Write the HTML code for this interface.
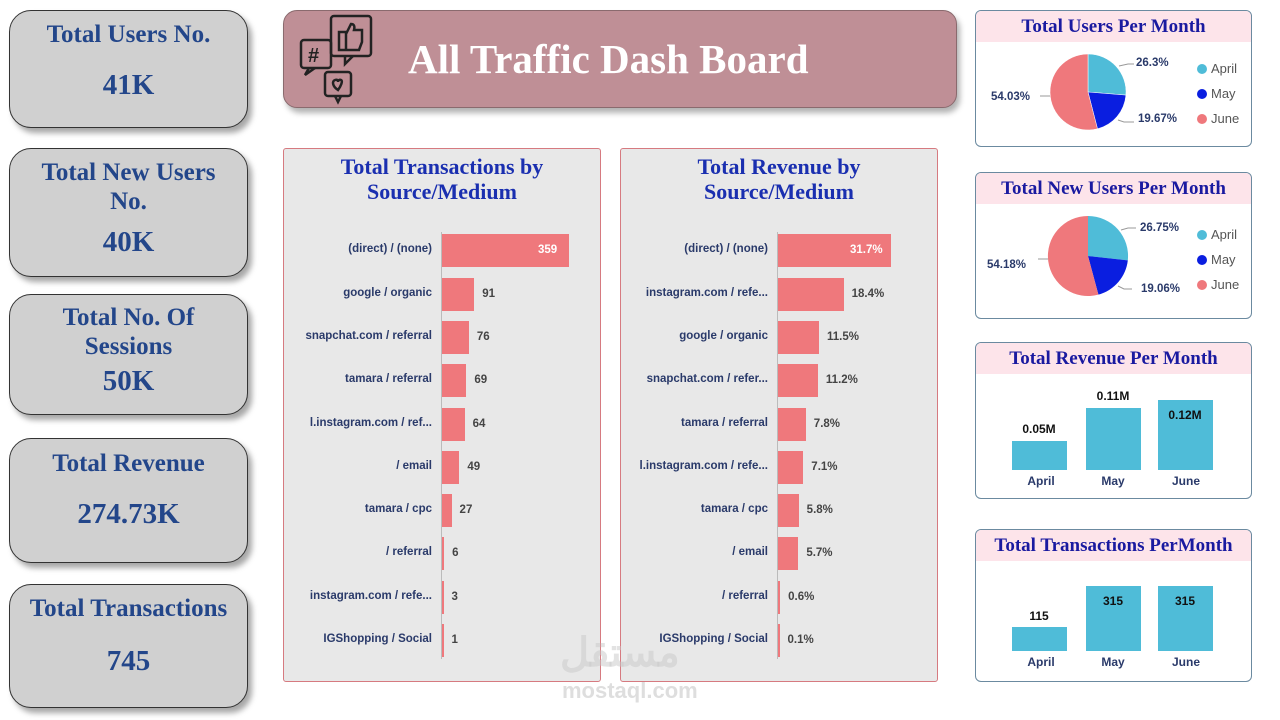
<!DOCTYPE html>
<html><head><meta charset="utf-8"><style>
*{margin:0;padding:0;box-sizing:border-box}
body{width:1280px;height:720px;background:#fff;position:relative;overflow:hidden;font-family:"Liberation Sans",sans-serif}
.a{position:absolute}
.card{position:absolute;left:9px;width:239px;background:#d0d0d0;border:1.5px solid #333;border-radius:22px;box-shadow:4px 5px 6px rgba(0,0,0,.35);text-align:center;font-family:"Liberation Serif",serif;font-weight:bold;color:#23468a}
.card .t{font-size:25px;line-height:29px}
.card .v{font-size:29px}
.panel{position:absolute;top:148px;height:534px;width:318px;background:#e8e8e8;border:1px solid #d67a80;border-radius:3px}
.pt{position:absolute;top:5px;left:0;width:100%;text-align:center;font-family:"Liberation Serif",serif;font-weight:bold;color:#1a2fb0;font-size:22px;line-height:25px}
.lb{position:absolute;font-size:11.5px;font-weight:bold;color:#2a3a6a;text-align:right;white-space:nowrap}
.bar{position:absolute;background:#ef787c;height:33px}
.val{position:absolute;font-size:11.5px;font-weight:bold;color:#444}
.rp{position:absolute;left:975px;width:277px;border:1.5px solid #6b8aa0;border-radius:6px;background:#fff;overflow:hidden}
.rt{height:31px;background:#fde4ea;text-align:center;font-family:"Liberation Serif",serif;font-weight:bold;color:#1a1aa0;font-size:19px;line-height:31px;white-space:nowrap}
.cb{position:absolute;background:#4fbcd8}
.ml{position:absolute;font-size:12px;font-weight:bold;color:#2a3a6a;width:54px;text-align:center}
.bv{position:absolute;font-size:12px;font-weight:bold;color:#111;width:54px;text-align:center}
.pl{position:absolute;font-size:11.5px;font-weight:bold;color:#2a3a6a}
.lg{position:absolute;font-size:13px;color:#555}
.lg i{display:inline-block;width:10px;height:10px;border-radius:50%;margin-right:4px;vertical-align:-1px}
</style></head><body>

<div class="card" style="top:10px;height:118px"><div class="t" style="margin-top:9px">Total Users No.</div><div class="v" style="margin-top:20px">41K</div></div>
<div class="card" style="top:148px;height:129px"><div class="t" style="margin-top:9px">Total New Users<br>No.</div><div class="v" style="margin-top:10px">40K</div></div>
<div class="card" style="top:294px;height:121px"><div class="t" style="margin-top:8px">Total No. Of<br>Sessions</div><div class="v" style="margin-top:4px">50K</div></div>
<div class="card" style="top:438px;height:125px"><div class="t" style="margin-top:10px">Total Revenue</div><div class="v" style="margin-top:20px">274.73K</div></div>
<div class="card" style="top:584px;height:124px"><div class="t" style="margin-top:9px">Total Transactions</div><div class="v" style="margin-top:22px">745</div></div>

<div class="a" style="left:283px;top:10px;width:674px;height:98px;background:#bf8f96;border:1px solid #8a6a6e;border-radius:14px;box-shadow:3px 5px 6px rgba(0,0,0,.3)"></div>
<svg class="a" style="left:295px;top:14px" width="90" height="92" viewBox="0 0 90 92" fill="none" stroke="#222" stroke-width="2.5">
<rect x="6" y="26" width="30" height="28" rx="3"/><path d="M14 54 l-4 7 10 -7"/>
<rect x="36" y="2" width="40" height="40" rx="3"/><path d="M50 42 l0 8 8 -8"/>
<path d="M44 18h7v18h-7zM51 20l5-10c3 0 4 2 3 6h8v12l-3 8h-13"/>
<rect x="30" y="58" width="26" height="24" rx="3"/><path d="M40 82l3 6 3-6"/>
<path d="M43 76c-6-4-6-9-3-10s3 1 3 2c0-1 1-3 3-2s0 6-3 10z"/>
<text x="13" y="48" font-size="20" font-weight="bold" fill="#222" stroke="none" font-family="Liberation Sans">#</text>
</svg>
<div class="a" style="left:408px;top:35px;font-family:'Liberation Serif',serif;font-weight:bold;color:#fff;font-size:41px;white-space:nowrap">All Traffic Dash Board</div>

<div class="panel" style="left:283px">
<div class="pt">Total Transactions by<br>Source/Medium</div>
</div>
<div class="panel" style="left:620px">
<div class="pt">Total Revenue by<br>Source/Medium</div>
</div>
<div class="a" style="left:441px;top:232px;width:1px;height:427px;background:#bbb"></div>
<div class="a" style="left:777px;top:232px;width:1px;height:427px;background:#bbb"></div>
<div id="t1"></div>

<script>
var ys=[250,294,337,380,424,467,510,553,597,640];
var A=[["(direct) / (none)",359],["google / organic",91],["snapchat.com / referral",76],["tamara / referral",69],["l.instagram.com / ref...",64],["/ email",49],["tamara / cpc",27],["/ referral",6],["instagram.com / refe...",3],["IGShopping / Social",1]];
var B=[["(direct) / (none)",31.7],["instagram.com / refe...",18.4],["google / organic",11.5],["snapchat.com / refer...",11.2],["tamara / referral",7.8],["l.instagram.com / refe...",7.1],["tamara / cpc",5.8],["/ email",5.7],["/ referral",0.6],["IGShopping / Social",0.1]];
var h="";
function draw(D,ax,max,w,suf,lr){
D.forEach(function(d,i){var y=ys[i];var bw=Math.max(1.5,d[1]/max*w);
h+='<div class="lb" style="right:'+(1280-lr)+'px;top:'+(y-7)+'px">'+d[0]+'</div>';
h+='<div class="bar" style="left:'+(ax+1)+'px;top:'+(y-16)+'px;width:'+bw+'px"></div>';
var t=suf?d[1].toFixed(1)+"%":d[1];
if(i==0)h+='<div class="val" style="color:#fff;left:'+(ax+bw-(suf?40:30))+'px;top:'+(y-6)+'px">'+t+'</div>';
else h+='<div class="val" style="left:'+(ax+bw+9)+'px;top:'+(y-6)+'px">'+t+'</div>';});}
draw(A,441,359,127,false,432);
draw(B,777,31.7,113,true,768);
document.getElementById("t1").innerHTML=h;
</script>

<div class="rp" style="top:10px;height:137px"><div class="rt">Total Users Per Month</div></div>
<div class="rp" style="top:172px;height:147px"><div class="rt">Total New Users Per Month</div></div>
<svg class="a" style="left:0;top:0" width="1280" height="720">
<g transform="translate(1088,92)">
<path d="M0 0V-38A38 38 0 0 1 37.9 3.1Z" fill="#4fbcd8" stroke="#fff" stroke-width=".5"/>
<path d="M0 0L37.9 3.1A38 38 0 0 1 9.5 36.8Z" fill="#0a1ee0" stroke="#fff" stroke-width=".5"/>
<path d="M0 0L9.5 36.8A38 38 0 1 1 0 -38Z" fill="#ef787c" stroke="#fff" stroke-width=".5"/>
<path d="M31 -26L40 -28H46M30 28L36 30H46M-38 4H-48" stroke="#999" fill="none"/>
</g>
<g transform="translate(1088,256)">
<path d="M0 0V-40A40 40 0 0 1 39.8 4.4Z" fill="#4fbcd8"/>
<path d="M0 0L39.8 4.4A40 40 0 0 1 10.4 38.6Z" fill="#0a1ee0"/>
<path d="M0 0L10.4 38.6A40 40 0 1 1 0 -40Z" fill="#ef787c"/>
<path d="M33 -26L40 -28H48M30 30L36 33H44M-40 3H-50" stroke="#999" fill="none"/>
</g>
</svg>
<div class="pl" style="left:1136px;top:57px">26.3%</div>
<div class="pl" style="left:1138px;top:113px">19.67%</div>
<div class="pl" style="left:991px;top:91px">54.03%</div>
<div class="lg" style="left:1197px;top:61px"><i style="background:#4fbcd8"></i>April</div>
<div class="lg" style="left:1197px;top:86px"><i style="background:#0a1ee0"></i>May</div>
<div class="lg" style="left:1197px;top:111px"><i style="background:#ef787c"></i>June</div>

<div class="pl" style="left:1140px;top:222px">26.75%</div>
<div class="pl" style="left:1141px;top:283px">19.06%</div>
<div class="pl" style="left:987px;top:259px">54.18%</div>
<div class="lg" style="left:1197px;top:227px"><i style="background:#4fbcd8"></i>April</div>
<div class="lg" style="left:1197px;top:252px"><i style="background:#0a1ee0"></i>May</div>
<div class="lg" style="left:1197px;top:277px"><i style="background:#ef787c"></i>June</div>

<div class="rp" style="top:342px;height:157px"><div class="rt">Total Revenue Per Month</div></div>
<div class="cb" style="left:1012px;top:441px;width:55px;height:29px"></div>
<div class="cb" style="left:1086px;top:408px;width:55px;height:62px"></div>
<div class="cb" style="left:1158px;top:400px;width:55px;height:70px"></div>
<div class="bv" style="left:1012px;top:422px">0.05M</div>
<div class="bv" style="left:1086px;top:389px">0.11M</div>
<div class="bv" style="left:1158px;top:408px">0.12M</div>
<div class="ml" style="left:1014px;top:474px">April</div>
<div class="ml" style="left:1086px;top:474px">May</div>
<div class="ml" style="left:1159px;top:474px">June</div>

<div class="rp" style="top:529px;height:153px"><div class="rt">Total Transactions PerMonth</div></div>
<div class="cb" style="left:1012px;top:627px;width:55px;height:24px"></div>
<div class="cb" style="left:1086px;top:586px;width:55px;height:65px"></div>
<div class="cb" style="left:1158px;top:586px;width:55px;height:65px"></div>
<div class="bv" style="left:1012px;top:609px">115</div>
<div class="bv" style="left:1086px;top:594px">315</div>
<div class="bv" style="left:1158px;top:594px">315</div>
<div class="ml" style="left:1014px;top:655px">April</div>
<div class="ml" style="left:1086px;top:655px">May</div>
<div class="ml" style="left:1159px;top:655px">June</div>

<div class="a" style="left:560px;top:630px;font-size:40px;font-weight:bold;color:rgba(200,200,200,.5)">مستقل</div>
<div class="a" style="left:562px;top:678px;font-size:22px;font-weight:bold;color:rgba(200,200,200,.6)">mostaql.com</div>
</body></html>
